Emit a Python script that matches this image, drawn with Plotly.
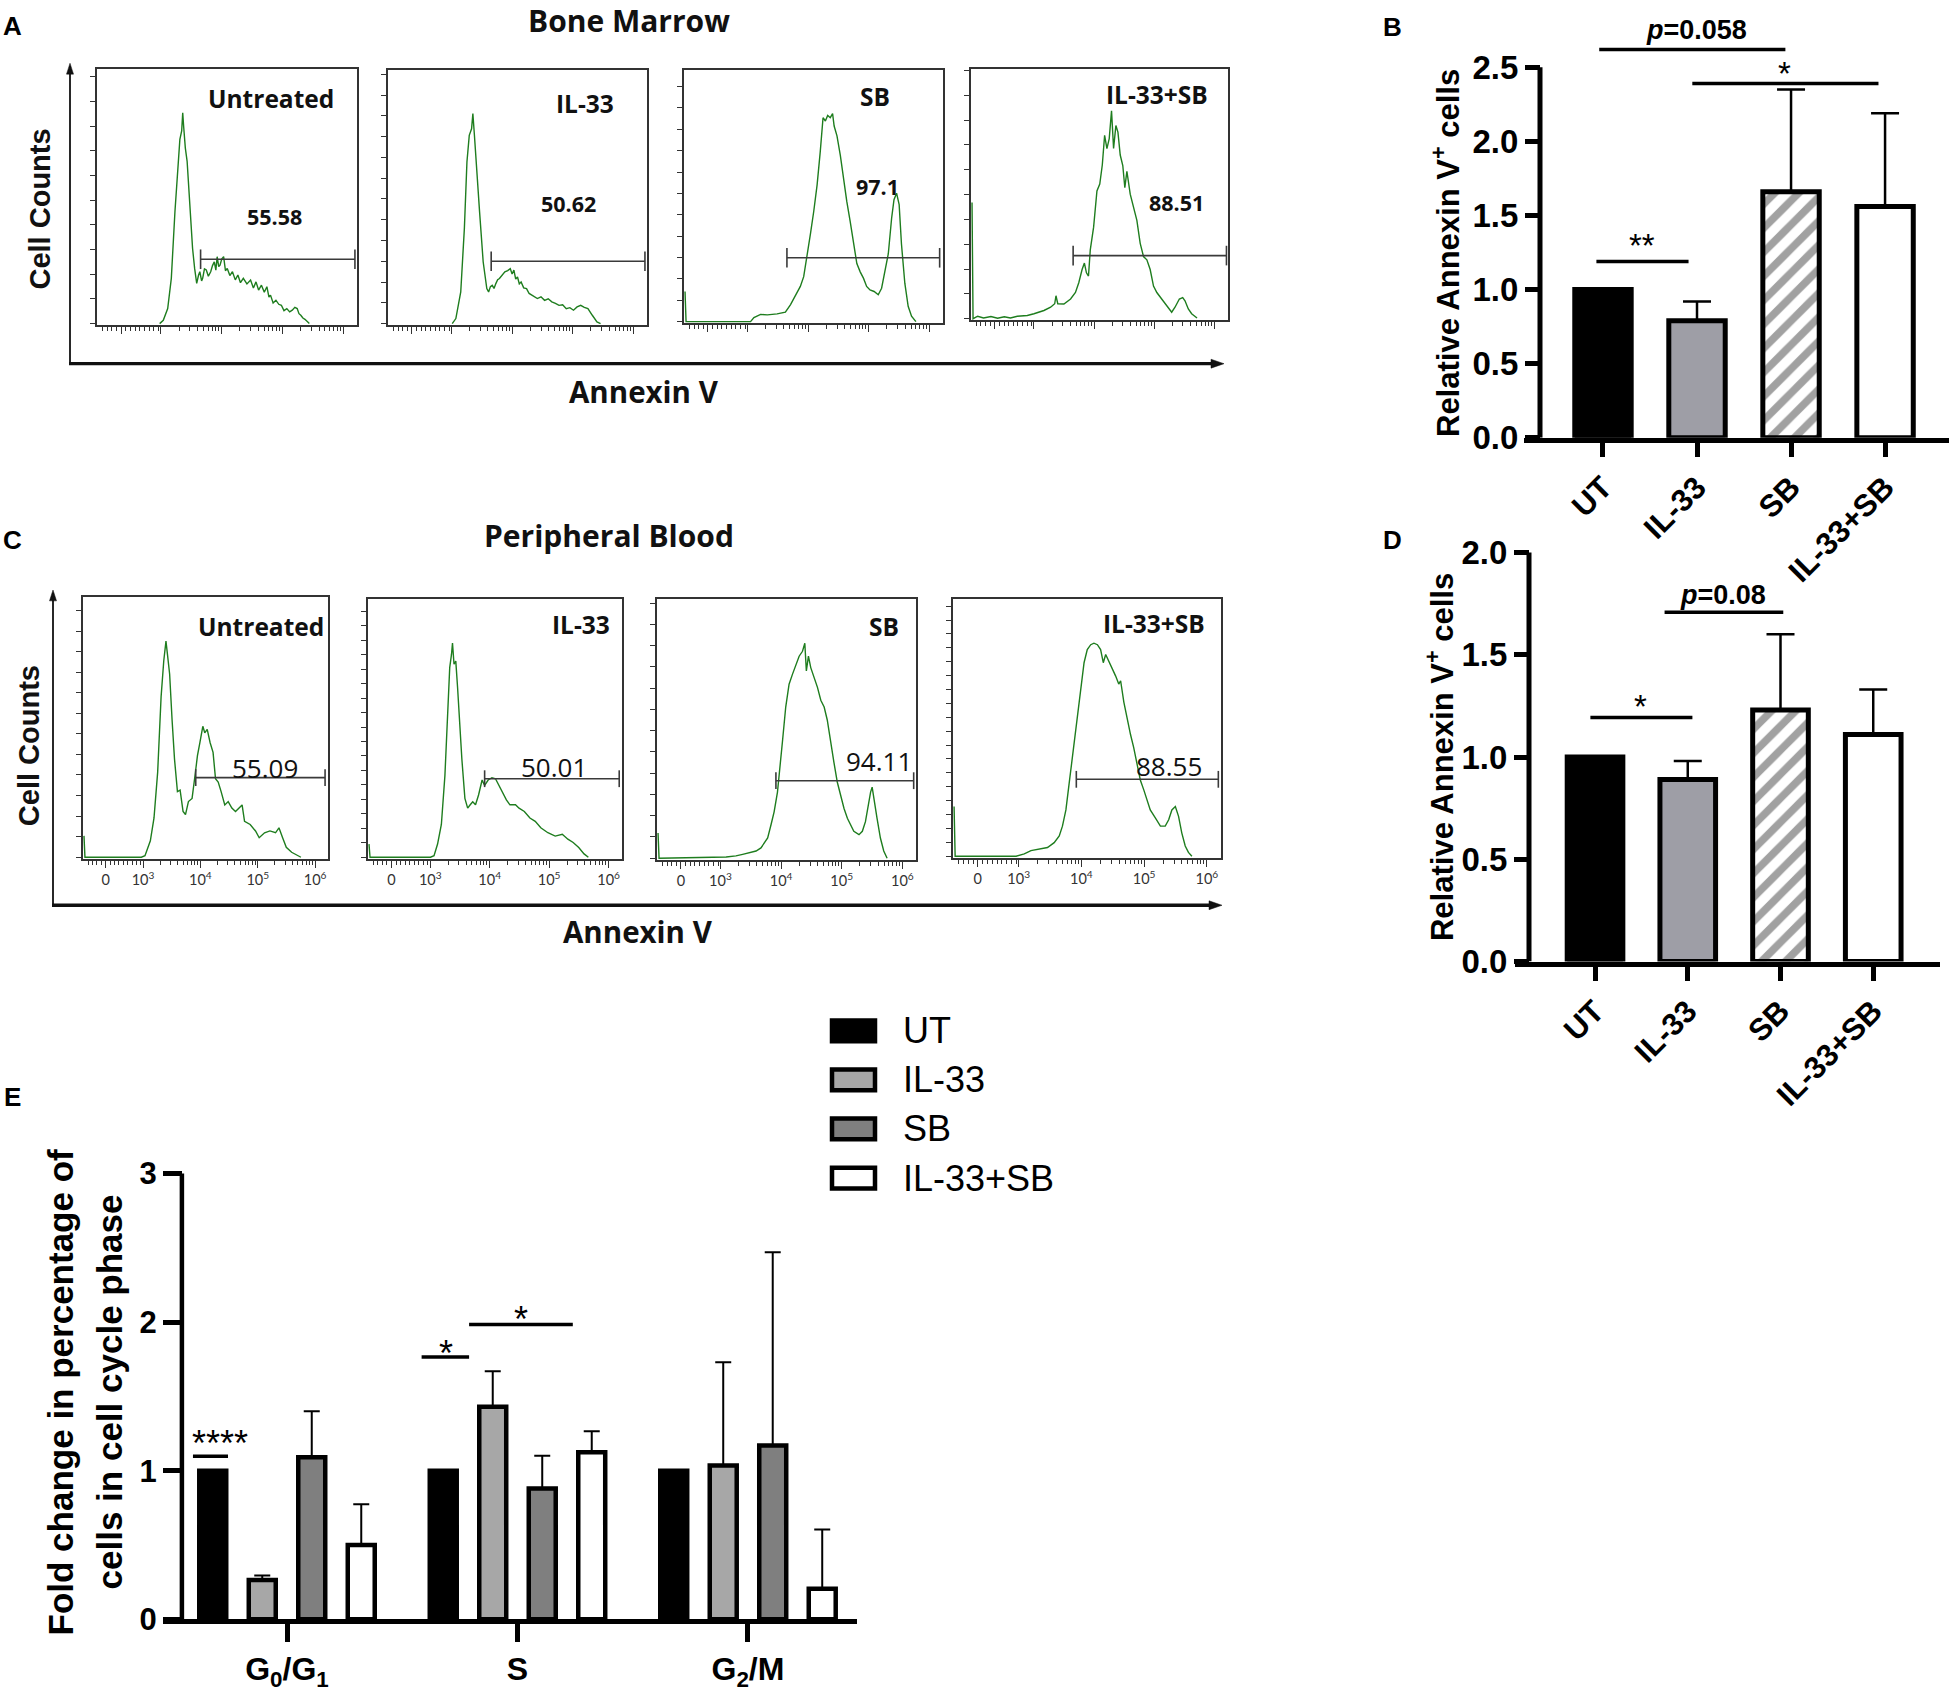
import math
import plotly.graph_objects as go

W, H = 1949, 1703


def px(x):
    return x / W


def py(y):
    return 1 - y / H


# ---------------------------------------------------------------- data
conditions = ["Untreated", "IL-33", "SB", "IL-33+SB"]
treatments = ["UT", "IL-33", "SB", "IL-33+SB"]

bm_percent = ["55.58", "50.62", "97.1", "88.51"]
pb_percent = ["55.09", "50.01", "94.11", "88.55"]

# histogram curves: (Annexin V position, % of axis width ; cell count, % of axis height)
bm_untreated = [(23.8, 0), (25.2, 1.3), (26.9, 5.9), (28.3, 17.8), (29.7, 44.1), (30.9, 63.8), (31.6, 72.4),
                (32.3, 75.7), (32.7, 82.9), (33.1, 77.0), (33.7, 69.1), (34.4, 63.8), (35.3, 48.0), (36.5, 29.6),
                (37.3, 21.7), (38.1, 15.8), (38.8, 19.0), (39.3, 20.4), (40.0, 16.8), (40.4, 17.8), (41.1, 21.5),
                (41.8, 21.1), (42.6, 18.6), (43.5, 20.4), (44.2, 22.8), (44.9, 24.3), (45.5, 21.0), (46.0, 26.3),
                (46.6, 22.4), (47.1, 23.0), (47.8, 25.5), (48.5, 26.3), (49.2, 20.8), (49.9, 21.7), (50.9, 18.9),
                (51.9, 20.4), (53.0, 17.2), (54.0, 19.1), (55.0, 16.1), (56.1, 17.8), (57.5, 15.6), (58.9, 17.1),
                (60.0, 14.0), (61.0, 16.4), (62.0, 13.2), (63.1, 15.1), (64.2, 12.3), (65.2, 14.5), (66.0, 10.4),
                (66.6, 11.2), (67.6, 8.1), (68.7, 9.2), (69.8, 7.6), (70.8, 7.2), (71.8, 5.1), (72.9, 5.9),
                (74.0, 4.6), (75.0, 5.3), (76.0, 6.4), (76.9, 5.9), (77.6, 3.9), (78.3, 3.3), (79.1, 2.2),
                (79.9, 1.7), (81.6, 0)]
bm_il33 = [(24.5, 0), (25.9, 2.0), (27.8, 12.5), (29.2, 37.5), (30.2, 63.8), (31.1, 74.3), (32.0, 76.9),
           (32.5, 82.9), (33.1, 74.3), (33.9, 61.2), (35.1, 44.1), (36.5, 24.3), (37.9, 13.8), (38.6, 12.5),
           (39.3, 14.6), (40.0, 15.1), (40.7, 13.9), (41.4, 15.8), (42.1, 17.3), (42.8, 17.8), (43.8, 19.2),
           (44.9, 20.4), (46.0, 20.9), (47.0, 21.7), (47.7, 19.6), (48.4, 21.1), (49.1, 17.6), (49.8, 18.4),
           (50.5, 15.7), (51.2, 16.4), (52.2, 14.1), (53.3, 13.8), (54.3, 11.9), (55.4, 11.2), (56.4, 10.8),
           (57.5, 9.9), (58.9, 10.6), (60.3, 9.2), (61.7, 9.8), (63.1, 8.6), (64.5, 8.0), (65.9, 7.2),
           (67.3, 7.4), (68.7, 5.9), (70.1, 6.3), (71.5, 5.3), (72.9, 6.6), (74.3, 7.2), (75.7, 6.4),
           (77.1, 5.9), (78.8, 3.3), (80.6, 0.7), (82.0, 0)]
bm_sb = [(0, 12.0), (0.4, 0), (25.4, 0), (26.7, 1.6), (29.3, 2.9), (31.9, 2.7), (35.7, 3.1), (38.9, 3.8),
         (40.9, 6.8), (42.8, 10.7), (44.7, 14.0), (46.0, 17.9), (47.3, 25.7), (48.6, 34.8), (49.9, 43.9),
         (51.2, 54.4), (52.4, 67.4), (53.5, 81.1), (54.4, 79.8), (55.3, 82.0), (56.3, 81.1), (57.2, 82.7),
         (57.8, 77.8), (58.9, 73.9), (60.2, 66.1), (61.4, 57.0), (62.7, 47.8), (64.0, 40.0), (65.3, 30.9),
         (66.6, 23.1), (67.9, 19.8), (69.2, 17.2), (70.4, 14.0), (71.7, 12.6), (73.3, 12.0), (74.9, 10.7),
         (76.2, 13.3), (77.5, 20.5), (78.8, 27.0), (80.1, 41.3), (81.0, 48.5), (82.0, 51.1), (83.0, 46.5),
         (83.9, 30.9), (85.2, 15.3), (86.5, 6.1), (87.8, 2.2), (89.5, 0)]
bm_il33_sb = [(0, 46.6), (0.4, 0), (2.2, 1.0), (4.5, 0.3), (7.4, 0.9), (10.0, 0.2), (12.6, 0.8), (15.0, 0.3),
              (17.7, 1.0), (21.6, 1.3), (24.2, 2.0), (28.1, 3.3), (30.7, 4.6), (32.3, 6.0), (32.8, 9.2),
              (33.5, 6.0), (35.9, 5.9), (38.5, 7.9), (40.4, 10.5), (41.7, 14.4), (43.0, 19.7), (43.9, 22.3),
              (44.7, 18.4), (45.5, 17.1), (46.2, 27.6), (47.5, 36.7), (48.8, 51.2), (49.9, 54.0), (50.9, 61.7),
              (51.8, 73.5), (52.7, 68.2), (53.6, 72.2), (54.5, 83.3), (55.3, 68.2), (56.2, 77.4), (57.0, 74.8),
              (57.9, 65.6), (58.9, 61.4), (59.7, 52.5), (60.5, 59.1), (61.8, 49.9), (63.1, 44.6), (64.4, 39.4),
              (65.7, 30.2), (67.0, 24.9), (68.3, 23.6), (69.6, 19.7), (70.9, 13.1), (72.2, 10.5), (74.1, 7.9),
              (76.0, 5.2), (78.0, 2.6), (79.3, 4.6), (81.0, 7.9), (82.3, 8.5), (83.2, 7.2), (84.5, 3.9),
              (85.8, 2.0), (87.9, 0.3)]

pb_untreated = [(0, 8.2), (0.4, 0), (23.5, 0), (25.0, 0.6), (27.2, 6.3), (28.7, 15.1), (30.2, 32.7), (31.6, 61.6),
                (32.7, 75.5), (33.6, 83.0), (34.2, 78.0), (35.1, 70.4), (36.1, 52.8), (37.1, 37.7), (38.3, 25.2),
                (39.4, 25.8), (40.6, 17.6), (41.6, 16.4), (42.8, 21.4), (44.3, 22.6), (45.5, 31.4), (46.5, 39.0),
                (47.5, 44.0), (48.7, 50.3), (49.5, 47.8), (50.5, 49.1), (51.7, 44.0), (52.9, 40.3), (53.9, 30.2),
                (55.0, 28.9), (56.2, 25.2), (57.7, 20.1), (59.1, 21.4), (60.6, 18.9), (62.1, 17.6), (63.6, 18.9),
                (64.8, 20.1), (65.8, 13.8), (68.1, 12.6), (70.3, 10.1), (71.8, 7.5), (74.0, 9.4), (76.2, 10.1),
                (78.5, 9.4), (79.9, 11.3), (81.4, 7.5), (82.9, 3.8), (85.1, 1.9), (87.4, 0.6), (88.9, 0)]
pb_il33 = [(0, 5.1), (0.4, 0), (24.3, 0), (25.7, 0.6), (27.1, 5.1), (28.6, 12.7), (30.0, 31.6), (31.0, 53.2),
           (31.9, 73.4), (32.6, 78.5), (33.0, 82.9), (33.6, 74.7), (34.3, 75.9), (35.0, 65.8), (35.7, 53.2),
           (36.7, 38.0), (37.9, 22.8), (39.0, 19.0), (40.0, 20.3), (41.0, 21.5), (42.1, 20.3), (43.3, 24.1),
           (44.7, 29.9), (45.7, 27.8), (47.1, 29.9), (48.6, 30.8), (50.0, 30.4), (51.4, 27.8), (52.9, 24.7),
           (54.3, 22.2), (55.7, 20.3), (57.9, 20.3), (59.3, 19.0), (61.4, 17.7), (63.6, 15.2), (65.7, 13.9),
           (67.9, 11.4), (70.7, 9.5), (73.6, 8.2), (76.4, 8.9), (78.6, 7.0), (80.7, 5.7), (82.9, 3.8),
           (85.0, 1.3), (86.7, 0)]
pb_sb = [(0, 9.7), (0.4, 0), (26.4, 0.5), (30.2, 0.9), (32.8, 1.5), (35.4, 2.1), (38.0, 2.8), (39.9, 4.0),
         (41.2, 5.9), (42.5, 7.8), (43.8, 12.9), (45.0, 17.9), (46.3, 25.5), (47.4, 35.6), (48.3, 45.7),
         (49.5, 58.3), (50.8, 67.1), (52.1, 70.9), (53.4, 74.7), (54.7, 77.9), (56.0, 79.8), (56.9, 82.9),
         (57.5, 72.2), (58.3, 77.9), (59.2, 73.5), (60.5, 69.7), (61.8, 65.9), (63.1, 60.9), (64.4, 58.3),
         (65.6, 53.3), (66.9, 44.4), (68.2, 36.9), (69.5, 29.3), (70.8, 24.2), (72.1, 19.2), (73.4, 15.4),
         (74.6, 12.9), (75.9, 10.4), (77.9, 9.1), (79.2, 10.4), (80.4, 14.1), (81.5, 20.5), (82.4, 25.5),
         (83.0, 27.4), (83.8, 23.0), (84.9, 15.4), (86.2, 7.8), (87.5, 2.8), (88.8, 0)]
pb_il33_sb = [(0, 19.3), (0.4, 0), (23.2, 0), (26.3, 0.9), (28.8, 2.2), (32.5, 3.0), (35.0, 3.4), (37.5, 5.3),
              (39.4, 7.9), (40.6, 11.7), (41.9, 18.0), (43.1, 28.2), (44.3, 38.4), (45.2, 46.0), (46.2, 56.2),
              (47.5, 66.3), (48.7, 75.2), (49.9, 80.3), (51.2, 82.2), (52.4, 82.8), (53.7, 82.2), (54.9, 80.3),
              (55.9, 75.2), (56.8, 78.4), (58.0, 75.8), (59.3, 72.6), (60.5, 70.1), (61.7, 66.9), (62.4, 68.2),
              (63.6, 59.9), (64.8, 53.6), (66.1, 47.3), (67.3, 42.2), (68.6, 35.8), (69.8, 29.5), (71.1, 25.7),
              (72.3, 21.9), (73.5, 18.0), (75.4, 14.9), (77.3, 11.7), (79.1, 11.7), (80.4, 14.2), (81.6, 18.0),
              (82.9, 19.3), (84.1, 15.5), (85.3, 9.1), (86.6, 4.0), (87.8, 1.5), (89.1, 0)]

# gates: (low, high, drawn level)
bm_gates = [(39.6, 99.2, 25.3), (39.6, 99.2, 24.6), (39.5, 98.7, 25.4), (39.5, 99.4, 25.3)]
pb_gates = [(45.8, 98.8, 30.6), (45.7, 98.9, 30.4), (45.7, 99.1, 29.9), (45.8, 99.0, 29.9)]

flow_tick_text = ["0", "10<sup>3</sup>", "10<sup>4</sup>", "10<sup>5</sup>", "10<sup>6</sup>"]
flow_tick_pos = [8.9, 24.2, 47.7, 71.2, 94.7]

# B: bone marrow relative Annexin V+ cells
b_mean = [1.00, 0.79, 1.66, 1.56]
b_err = [0.0, 0.13, 0.69, 0.63]
# D: peripheral blood relative Annexin V+ cells
d_mean = [1.00, 0.89, 1.23, 1.11]
d_err = [0.0, 0.09, 0.37, 0.22]

# E: cell cycle fold change
phases = ["G<sub>0</sub>/G<sub>1</sub>", "S", "G<sub>2</sub>/M"]
e_ut = [1.00, 1.00, 1.00]
e_il33 = [0.265, 1.43, 1.035]
e_sb = [1.09, 0.88, 1.17]
e_il33_sb = [0.50, 1.125, 0.205]
e_ut_err = [0.0, 0.0, 0.0]
e_il33_err = [0.03, 0.24, 0.695]
e_sb_err = [0.31, 0.22, 1.30]
e_il33_sb_err = [0.275, 0.14, 0.40]

# significance brackets: (x start, x end, level, label, label x, label y)
b_sig = [(-0.04, 1.94, 2.62, "<i>p</i>=0.058", 0.99, 2.75),
         (0.95, 2.93, 2.39, "*", 1.93, 2.46),
         (-0.07, 0.91, 1.19, "**", 0.41, 1.30)]
d_sig = [(-0.05, 1.05, 1.193, "*", 0.49, 1.245),
         (0.75, 2.03, 1.708, "<i>p</i>=0.08", 1.38, 1.79)]
e_sig = [(-0.408, -0.256, 1.097, "****", -0.29, 1.18),
         (0.584, 0.79, 1.765, "*", 0.69, 1.79),
         (0.79, 1.24, 1.985, "*", 1.015, 2.02)]

bd_fill = ["#000000", "#9e9ea6", "#ffffff", "#ffffff"]
bd_pattern = ["", "", "/", ""]
e_fill = ["#000000", "#a7a7a7", "#7f7f7f", "#ffffff"]

# ---------------------------------------------------------------- styling
ARIAL = "Liberation Sans, Arial, sans-serif"
FLOW = "Open Sans, Lato, sans-serif"
GREEN = "#1e7d1e"
FRAME = "#333333"

fig = go.Figure()
layout = dict(width=W, height=H, autosize=False, margin=dict(l=0, r=0, t=0, b=0),
              paper_bgcolor="white", plot_bgcolor="white", showlegend=False,
              barmode="group", bargap=0.141, bargroupgap=0.455)
annotations = []
shapes = []


def axname(i):
    return ("xaxis" if i == 1 else f"xaxis{i}"), ("yaxis" if i == 1 else f"yaxis{i}")


def axref(i):
    return ("x" if i == 1 else f"x{i}"), ("y" if i == 1 else f"y{i}")


# histogram panels (pixel boxes of the frames)
hist_boxes = [(97, 69, 357, 328), (388, 70, 647, 328), (684, 70, 943, 326), (971, 69, 1228, 323),
              (83, 603, 328, 868), (368, 605, 622, 868), (657, 605, 916, 869), (953, 605, 1221, 867)]
hist_dtick = [9.7, 8.2, 8.5, 9.95, 7.9, 5.6, 8.2, 5.4]
label_pos = [(66.9, 88.6), (76.0, 86.8), (73.7, 89.6), (72.2, 89.9),
             (72.5, 88.7), (83.6, 89.9), (87.5, 89.3), (75.0, 90.5)]
pct_pos = [(68.0, 42.0), (69.4, 47.4), (74.6, 53.7), (79.9, 46.6),
           (74.0, 34.2), (73.3, 34.8), (85.6, 37.5), (80.4, 35.2)]

minor_ticks = [flow_tick_pos[0] - 1.8 * k for k in range(1, 5)] + [flow_tick_pos[0] + 1.8 * k for k in range(1, 9)]
for d in flow_tick_pos[1:4]:
    minor_ticks += [d + 23.5 * math.log10(k) for k in range(2, 10)]

curves = [bm_untreated, bm_il33, bm_sb, bm_il33_sb, pb_untreated, pb_il33, pb_sb, pb_il33_sb]
gates = bm_gates + pb_gates
pcts = bm_percent + pb_percent

for i in range(8):
    n = i + 1
    xk, yk = axname(n)
    xr, yr = axref(n)
    x0, y0, x1, y1 = hist_boxes[i]
    is_pb = i >= 4
    layout[xk] = dict(domain=[px(x0), px(x1)], range=[-0.4, 100], anchor=yr, showgrid=False, zeroline=False,
                      showline=True, mirror=True, linecolor=FRAME, linewidth=1.5,
                      ticks="outside", ticklen=7, tickwidth=1, tickcolor=FRAME,
                      tickmode="array", tickvals=flow_tick_pos, ticktext=flow_tick_text,
                      showticklabels=is_pb, tickfont=dict(family="Lato, sans-serif", size=14.5, color="#333"),
                      minor=dict(tickmode="array", tickvals=minor_ticks, ticks="outside", ticklen=4,
                                 tickwidth=1, tickcolor=FRAME),
                      fixedrange=True)
    layout[yk] = dict(domain=[py(y1), py(y0)], range=[-0.6, 100], anchor=xr, showgrid=False, zeroline=False,
                      showline=True, mirror=True, linecolor=FRAME, linewidth=1.5,
                      ticks="outside", ticklen=5, tickwidth=1, tickcolor=FRAME,
                      tick0=0, dtick=hist_dtick[i], showticklabels=False, fixedrange=True)
    pts = curves[i]
    fig.add_trace(go.Scatter(x=[p[0] for p in pts], y=[p[1] for p in pts], mode="lines",
                             line=dict(color=GREEN, width=1.4), xaxis=xr, yaxis=yr, hoverinfo="skip"))
    lo, hi, lvl = gates[i]
    fig.add_trace(go.Scatter(x=[lo, hi], y=[lvl, lvl], mode="lines+markers", cliponaxis=False,
                             line=dict(color="#3a3a3a", width=1.6),
                             marker=dict(symbol="line-ns", size=14 if not is_pb else 12,
                                         line=dict(width=1.6, color="#3a3a3a")),
                             xaxis=xr, yaxis=yr, hoverinfo="skip"))
    lx, ly = label_pos[i]
    annotations.append(dict(text=conditions[i % 4], x=lx, y=ly, xref=xr, yref=yr, showarrow=False,
                            font=dict(family=FLOW, size=24.5, color="#111", weight="bold")))
    qx, qy = pct_pos[i]
    annotations.append(dict(text=pcts[i], x=qx, y=qy, xref=xr, yref=yr, showarrow=False,
                            font=dict(family=FLOW, size=26 if is_pb else 21.5, color="#111",
                                      weight="normal" if is_pb else "bold")))

# big arrows around histogram rows (lines + triangular heads)
for (vx, top, bottom, right, vw, hw) in [(70, 63, 367, 1224, 1.8, 3.3), (53, 596, 915, 1222, 1.8, 3.3)]:
    shapes.append(dict(type="line", xref="paper", yref="paper", x0=px(vx), x1=px(vx), y0=py(bottom + 1),
                       y1=py(top + 8), line=dict(color="#111", width=vw)))
    shapes.append(dict(type="path", xref="paper", yref="paper",
                       path=f"M {px(vx)},{py(top)} L {px(vx - 3.5)},{py(top + 11)} L {px(vx + 3.5)},{py(top + 11)} Z",
                       fillcolor="#111", line=dict(color="#111", width=0.5)))
    shapes.append(dict(type="line", xref="paper", yref="paper", x0=px(vx - 1), x1=px(right - 8),
                       y0=py(bottom), y1=py(bottom), line=dict(color="#111", width=hw)))
    shapes.append(dict(type="path", xref="paper", yref="paper",
                       path=f"M {px(right)},{py(bottom)} L {px(right - 13)},{py(bottom - 4.5)} L {px(right - 13)},{py(bottom + 4.5)} Z",
                       fillcolor="#111", line=dict(color="#111", width=0.5)))

# text for flow panels
annotations += [
    dict(text="Bone Marrow", x=px(629), y=py(20), font=dict(family=FLOW, size=30, weight="bold", color="#111")),
    dict(text="Peripheral Blood", x=px(609), y=py(541), font=dict(family=FLOW, size=30, weight="bold", color="#111")),
    dict(text="Annexin V", x=px(644), y=py(395), font=dict(family=FLOW, size=29.5, weight="bold", color="#111")),
    dict(text="Annexin V", x=px(638), y=py(942), font=dict(family=FLOW, size=29.5, weight="bold", color="#111")),
    dict(text="Cell Counts", x=px(40), y=py(211), textangle=-90,
         font=dict(family=ARIAL, size=29, weight="bold", color="#111")),
    dict(text="Cell Counts", x=px(29), y=py(754), textangle=-90,
         font=dict(family=ARIAL, size=29, weight="bold", color="#111")),
]
for letter, lx, ly in [("A", 1, 25), ("B", 1381, 26), ("C", 1, 545), ("D", 1381, 545), ("E", 2, 1109)]:
    annotations.append(dict(text=letter, x=px(lx), y=py(ly), xanchor="left",
                            font=dict(family=ARIAL, size=26, weight="bold", color="black")))


# ---------------------------------------------------------------- B and D bar charts
def bar_panel(n, means, errs, dom_px, yrange, yaxis_px, yticks, sig, lw=5):
    xk, yk = axname(n)
    xr, yr = axref(n)
    xl, xrgt, ybot, ytop, cat_left, cat_right = dom_px
    layout[xk] = dict(domain=[px(xl), px(xrgt)], range=[cat_left, cat_right], anchor=yr,
                      showgrid=False, zeroline=False, showline=True, linewidth=lw, linecolor="black",
                      ticks="outside", ticklen=14, tickwidth=lw, tickcolor="black",
                      tickmode="array", tickvals=list(range(4)), ticktext=treatments, tickangle=-45,
                      tickfont=dict(family=ARIAL, size=31, color="black", weight="bold"), fixedrange=True)
    layout[yk] = dict(domain=[py(ybot), py(ytop)], range=yrange, anchor="free", position=px(yaxis_px),
                      showgrid=False, zeroline=False, showline=False,
                      ticks="outside", ticklen=15, tickwidth=lw, tickcolor="black",
                      tickmode="array", tickvals=yticks, ticktext=[f"{v:.1f}" for v in yticks],
                      tickfont=dict(family=ARIAL, size=33, color="black", weight="bold"), fixedrange=True)
    y_line_x = cat_left + (yaxis_px - xl) / (xrgt - xl) * (cat_right - cat_left)
    shapes.append(dict(type="line", xref=xr, yref=yr, x0=y_line_x, x1=y_line_x, y0=0, y1=yticks[-1],
                       line=dict(color="black", width=lw)))
    fig.add_trace(go.Bar(x=list(range(4)), y=means, width=0.6, xaxis=xr, yaxis=yr, hoverinfo="skip",
                         marker=dict(color=bd_fill, line=dict(color="black", width=lw),
                                     pattern=dict(shape=bd_pattern, fgcolor="#7f7f7f", size=17,
                                                  solidity=0.45, fillmode="overlay")),
                         error_y=dict(type="data", symmetric=False, array=errs, arrayminus=[0] * 4,
                                      color="black", thickness=2.5, width=14)))
    for (sx0, sx1, lvl, txt, tx, ty) in sig:
        shapes.append(dict(type="line", xref=xr, yref=yr, x0=sx0, x1=sx1, y0=lvl, y1=lvl,
                           line=dict(color="black", width=3.5)))
        is_p = "p" in txt
        annotations.append(dict(text=txt, x=tx, y=ty, xref=xr, yref=yr, showarrow=False,
                                font=dict(family=ARIAL, size=27 if is_p else 33, color="black",
                                          weight="bold" if is_p else "normal")))


bar_panel(9, b_mean, b_err, (1524, 1949, 442, 10, -0.84, 3.68), [0, 2.88], 1540,
          [0, 0.5, 1.0, 1.5, 2.0, 2.5], b_sig)
bar_panel(10, d_mean, d_err, (1515, 1940, 972, 540, -0.863, 3.72), [0, 2.087], 1529,
          [0, 0.5, 1.0, 1.5, 2.0], d_sig)

annotations.append(dict(text="Relative Annexin V<sup>+</sup> cells", x=px(1446), y=py(255), textangle=-90,
                        font=dict(family=ARIAL, size=31, weight="bold", color="black")))
annotations.append(dict(text="Relative Annexin V<sup>+</sup> cells", x=px(1440), y=py(765), textangle=-90,
                        font=dict(family=ARIAL, size=31, weight="bold", color="black")))

# ---------------------------------------------------------------- E grouped bars
layout["xaxis11"] = dict(domain=[px(163), px(857)], range=[-0.538, 2.473], anchor="y11",
                         showgrid=False, zeroline=False, showline=True, linewidth=4.5, linecolor="black",
                         ticks="outside", ticklen=18, tickwidth=4.5, tickcolor="black",
                         tickmode="array", tickvals=[0, 1, 2], ticktext=phases,
                         tickfont=dict(family=ARIAL, size=32, color="black", weight="bold"), fixedrange=True)
layout["yaxis11"] = dict(domain=[py(1637.5), py(1170)], range=[0, 3.11], anchor="free", position=px(182),
                         showgrid=False, zeroline=False, showline=False,
                         ticks="outside", ticklen=19, tickwidth=4.5, tickcolor="black",
                         tickmode="array", tickvals=[0, 1, 2, 3], ticktext=["0", "1", "2", "3"],
                         tickfont=dict(family=ARIAL, size=31, color="black", weight="bold"), fixedrange=True)
shapes.append(dict(type="line", xref="x11", yref="y11", x0=-0.456, x1=-0.456, y0=0, y1=3,
                   line=dict(color="black", width=4.5)))
e_series = [e_ut, e_il33, e_sb, e_il33_sb]
e_errs = [e_ut_err, e_il33_err, e_sb_err, e_il33_sb_err]
for name, vals, errs, fill in zip(treatments, e_series, e_errs, e_fill):
    fig.add_trace(go.Bar(x=[0, 1, 2], y=vals, name=name, xaxis="x11", yaxis="y11", offsetgroup=name,
                         hoverinfo="skip", marker=dict(color=fill, line=dict(color="black", width=4.5)),
                         error_y=dict(type="data", symmetric=False, array=errs, arrayminus=[0, 0, 0],
                                      color="black", thickness=2, width=8)))
for (sx0, sx1, lvl, txt, tx, ty) in e_sig:
    shapes.append(dict(type="line", xref="x11", yref="y11", x0=sx0, x1=sx1, y0=lvl, y1=lvl,
                       line=dict(color="black", width=3.5)))
    annotations.append(dict(text=txt, x=tx, y=ty, xref="x11", yref="y11", showarrow=False,
                            font=dict(family=ARIAL, size=36, color="black")))

annotations.append(dict(text="Fold change in percentage of", x=px(60), y=py(1408), textangle=-90,
                        font=dict(family=ARIAL, size=35, weight="bold", color="black")))
annotations.append(dict(text="cells in cell cycle phase", x=px(109), y=py(1408), textangle=-90,
                        font=dict(family=ARIAL, size=35, weight="bold", color="black")))

# legend for E
for k, (name, fill) in enumerate(zip(treatments, e_fill)):
    cy = 1042 + 49.7 * k
    shapes.append(dict(type="rect", xref="paper", yref="paper", x0=px(832), x1=px(875),
                       y0=py(cy + 10.5), y1=py(cy - 10.5), fillcolor=fill, line=dict(color="black", width=4.5)))
    annotations.append(dict(text=name, x=px(901), y=py(cy), xanchor="left",
                            font=dict(family=ARIAL, size=36, color="black")))

for a in annotations:
    a.setdefault("xref", "paper")
    a.setdefault("yref", "paper")
    a.setdefault("showarrow", False)
    a.setdefault("xanchor", "center")
    a.setdefault("yanchor", "middle")

layout["annotations"] = annotations
layout["shapes"] = shapes
fig.update_layout(**layout)
fig.write_html("out.html", config={"displayModeBar": False},
               post_script="document.body.style.margin='0px';")
